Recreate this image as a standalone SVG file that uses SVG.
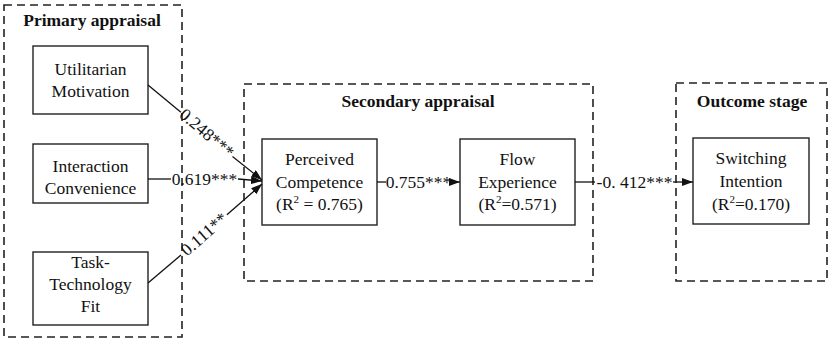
<svg xmlns="http://www.w3.org/2000/svg" width="829" height="340" viewBox="0 0 829 340" font-family="Liberation Serif, serif">
<style>
.stage{fill:none;stroke:#222;stroke-width:1.6;stroke-dasharray:8 5}
.node{fill:#fff;stroke:#222;stroke-width:1.4}
.t{font-size:17.5px;fill:#111;text-anchor:middle}
.h{font-size:17.5px;font-weight:bold;fill:#111;text-anchor:middle}
.c{fill:none;stroke:#111;stroke-width:1.3}
.sup{font-size:11px}
</style>
<defs>
<marker id="ah" markerUnits="userSpaceOnUse" markerWidth="11" markerHeight="8" refX="11" refY="4" orient="auto">
<path d="M0,0 L11,4 L0,8 z" fill="#111"/>
</marker>
</defs>
<g id="stage-primary">
<rect class="stage" x="4" y="5" width="178" height="332"/>
<text class="h" x="92" y="26">Primary appraisal</text>
</g>
<g id="stage-secondary">
<rect class="stage" x="244" y="84" width="349" height="197"/>
<text class="h" x="418" y="107">Secondary appraisal</text>
</g>
<g id="stage-outcome">
<rect class="stage" x="676" y="83" width="151" height="198"/>
<text class="h" x="752" y="107">Outcome stage</text>
</g>
<g id="node-utilitarian">
<rect class="node" x="33" y="46" width="115" height="68"/>
<text class="t" x="90.5" y="75">Utilitarian</text>
<text class="t" x="90.5" y="97">Motivation</text>
</g>
<g id="node-interaction">
<rect class="node" x="33" y="144" width="115" height="59"/>
<text class="t" x="90.5" y="172">Interaction</text>
<text class="t" x="90.5" y="194">Convenience</text>
</g>
<g id="node-task">
<rect class="node" x="33" y="252" width="115" height="73"/>
<text class="t" x="90.5" y="268">Task-</text>
<text class="t" x="90.5" y="290">Technology</text>
<text class="t" x="90.5" y="312">Fit</text>
</g>
<g id="node-competence">
<rect class="node" x="262" y="139" width="115" height="86"/>
<text class="t" x="319.5" y="165">Perceived</text>
<text class="t" x="319.5" y="188">Competence</text>
<text class="t" x="319.5" y="210">(R<tspan class="sup" dy="-7">2</tspan><tspan dy="7"> = 0.765)</tspan></text>
</g>
<g id="node-flow">
<rect class="node" x="460" y="139" width="115" height="86"/>
<text class="t" x="517.5" y="165">Flow</text>
<text class="t" x="517.5" y="188">Experience</text>
<text class="t" x="517.5" y="210">(R<tspan class="sup" dy="-7">2</tspan><tspan dy="7">=0.571)</tspan></text>
</g>
<g id="node-switching">
<rect class="node" x="693" y="138" width="116" height="86"/>
<text class="t" x="751" y="164">Switching</text>
<text class="t" x="751" y="187">Intention</text>
<text class="t" x="751" y="210">(R<tspan class="sup" dy="-7">2</tspan><tspan dy="7">=0.170)</tspan></text>
</g>
<g id="connectors">
<path class="c" d="M148,85 L180.9,112.3"/>
<path class="c" d="M232.5,156.6 L262,180" marker-end="url(#ah)"/>
<text class="t" transform="translate(207,133) rotate(40.6)" x="0" y="6">0.248***</text>
<path class="c" d="M148,179 L171,179"/>
<path class="c" d="M238,179 L262,181" marker-end="url(#ah)"/>
<text class="t" x="204.5" y="185">0.619***</text>
<path class="c" d="M148,283 L181,255"/>
<path class="c" d="M226.9,214.8 L262,184" marker-end="url(#ah)"/>
<text class="t" transform="translate(204,234) rotate(-41.2)" x="0" y="6">0.111**</text>
<path class="c" d="M377,182 L386,182"/>
<path class="c" d="M450,182 L460,182" marker-end="url(#ah)"/>
<text class="t" x="418.5" y="188">0.755***</text>
<path class="c" d="M575,182 L595,182"/>
<path class="c" d="M673,182 L693,182" marker-end="url(#ah)"/>
<text class="t" x="634.5" y="188">-0. 412***</text>
</g>
</svg>
